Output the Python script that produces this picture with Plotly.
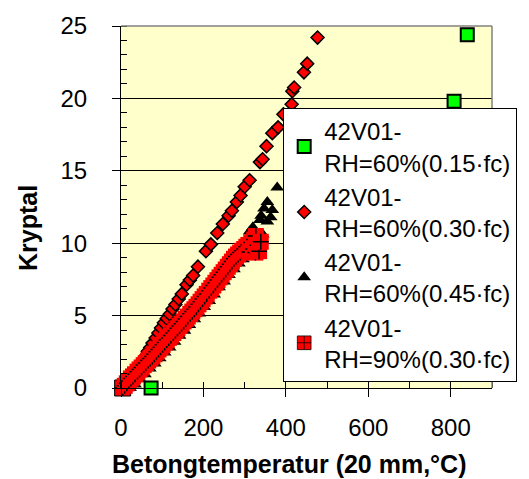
import plotly.graph_objects as go

# ---- data -------------------------------------------------------------
series_names = [
    "42V01-<br>RH=60%(0.15·fc)",
    "42V01-<br>RH=60%(0.30·fc)",
    "42V01-<br>RH=60%(0.45·fc)",
    "42V01-<br>RH=90%(0.30·fc)",
]

# RH=60 %, 0.15·fc
rh60_015_x = [73, 521, 808, 840]
rh60_015_y = [0.0, 1.36, 19.8, 24.4]

# RH=60 %, 0.30·fc
rh60_030_x = [10, 16, 22, 30, 37.5, 45, 53, 59, 65, 71, 76.5, 84, 90.6, 97, 104, 111,
              118, 125, 132, 140, 147.5, 159, 167, 175, 186.6, 206, 218, 233.5, 247,
              261, 269, 281, 290, 300, 312, 337, 343.5, 353, 367, 381, 394, 414,
              415.6, 420, 443.8, 451.7, 476.8]
rh60_030_y = [0.05, 0.3, 0.55, 0.9, 1.2, 1.5, 1.86, 2.2, 2.54, 2.8, 3.1, 3.45, 3.8,
              4.15, 4.5, 4.8, 5.09, 5.45, 5.77, 6.15, 6.5, 7.13, 7.45, 7.77, 8.38,
              9.45, 9.92, 10.7, 11.33, 11.9, 12.24, 12.85, 13.3, 13.9, 14.35, 15.6,
              15.8, 16.7, 17.6, 18.0, 18.9, 19.6, 20.5, 20.75, 21.8, 22.4, 24.2]

# RH=60 %, 0.45·fc
rh60_045_x = [22, 34, 46, 58, 70, 82, 94, 106, 118, 130, 142, 154, 166, 178, 190,
              202, 214, 226, 238, 250, 262, 274, 286, 296, 300, 305, 312, 320, 337,
              340, 344, 347, 355, 355, 363, 367, 379]
rh60_045_y = [0.0, 0.25, 0.6, 0.95, 1.35, 1.7, 2.05, 2.45, 2.8, 3.2, 3.6, 3.95, 4.35,
              4.75, 5.15, 5.6, 6.0, 6.45, 6.95, 7.35, 7.8, 8.2, 8.6, 8.9, 9.6,
              10.2, 10.8, 11.1, 11.6, 11.9, 10.6, 12.4, 12.85, 11.5, 11.8, 12.3, 13.85]

# RH=90 %, 0.30·fc
rh90_030_x = [4, 9, 14, 19, 24, 29, 34, 40, 45, 50, 55, 60, 66, 71, 76, 81, 86, 91,
              96, 101, 106, 111, 116, 121, 127, 132, 137, 142, 147, 152, 157, 162,
              168, 173, 178, 183, 188, 193, 198, 203, 208, 214, 219, 224, 229, 234,
              239, 244, 249, 254, 259, 264, 269, 274, 279, 284, 289, 294, 299, 304,
              309, 312, 316, 320, 323, 326, 327, 331, 335, 339]
rh90_030_y = [0.0, 0.15, 0.32, 0.48, 0.66, 0.8, 0.95, 1.13, 1.28, 1.42, 1.58, 1.72,
              1.9, 2.04, 2.18, 2.33, 2.5, 2.66, 2.81, 2.98, 3.14, 3.31, 3.46, 3.62,
              3.8, 3.96, 4.12, 4.29, 4.44, 4.6, 4.77, 4.93, 5.12, 5.28, 5.44, 5.6,
              5.78, 5.96, 6.14, 6.32, 6.5, 6.72, 6.9, 7.08, 7.27, 7.45, 7.64, 7.82,
              8.0, 8.18, 8.37, 8.55, 8.73, 8.92, 9.08, 9.22, 9.35, 9.48, 9.6, 9.75,
              9.88, 9.4, 10.05, 9.6, 10.25, 9.35, 10.5, 9.85, 9.45, 10.1]

x_ticks = [0, 200, 400, 600, 800]
y_ticks = [0, 5, 10, 15, 20, 25]

# ---- styling ----------------------------------------------------------
FONT = "Liberation Sans, Arial, sans-serif"
PLOT_BG = "#FFFFCC"
W, H = 529, 479
M_L, M_R, M_T, M_B = 121, 26, 21, 91

fig = go.Figure()

fig.add_trace(go.Scatter(
    x=rh60_015_x, y=rh60_015_y, mode="markers", name=series_names[0],
    marker=dict(symbol="square", size=13, color="#00FF00", opacity=1,
                line=dict(color="black", width=2)),
    cliponaxis=False,
))

fig.add_trace(go.Scatter(
    x=rh60_030_x, y=rh60_030_y, mode="markers", name=series_names[1],
    marker=dict(symbol="diamond", size=10, color="#FF0000", opacity=1,
                line=dict(color="black", width=1.5)),
    cliponaxis=False,
))

fig.add_trace(go.Scatter(
    x=rh60_045_x, y=rh60_045_y, mode="markers", name=series_names[2],
    marker=dict(symbol="triangle-up", size=12, color="black", opacity=1,
                line=dict(color="black", width=0)),
    cliponaxis=False,
))

# Each point drawn as a red square followed by a black plus, in sequence,
# so later squares cover the earlier crosses.
SQ = 16
px, py, psym, psize, plc, plw = [], [], [], [], [], []
for i, (xv, yv) in enumerate(zip(rh90_030_x, rh90_030_y)):
    px += [xv, xv]
    py += [yv, yv]
    psym += ["square-cross" if i == 0 else "square", "cross-thin"]
    psize += [SQ, SQ / 1.4]
    plc += ["black" if i == 0 else "#FF0000", "black"]
    plw += [1 if i == 0 else 0, 1.5]

fig.add_trace(go.Scatter(
    x=px, y=py, mode="markers", name=series_names[3],
    marker=dict(symbol=psym, size=psize, color="#FF0000", opacity=1,
                line=dict(color=plc, width=plw)),
    cliponaxis=False,
))

plot_w = W - M_L - M_R
plot_h = H - M_T - M_B

fig.update_layout(
    width=W, height=H,
    margin=dict(l=M_L, r=M_R, t=M_T, b=M_B, pad=0),
    paper_bgcolor="white",
    plot_bgcolor=PLOT_BG,
    font=dict(family=FONT, size=24, color="black"),
    showlegend=True,
    legend=dict(
        x=(288 - M_L) / plot_w, y=1 - (104 - M_T) / plot_h,
        xanchor="left", yanchor="top",
        bgcolor="white", bordercolor="black", borderwidth=1,
        font=dict(family=FONT, size=24, color="black"),
        tracegroupgap=0,
    ),
    xaxis=dict(
        range=[0, 900], tickvals=x_ticks, ticktext=[str(v) for v in x_ticks],
        showgrid=False, zeroline=False,
        showline=True, linecolor="black", linewidth=1,
        ticks="outside", ticklen=8, tickcolor="black", tickwidth=1,
        ticklabelstandoff=10,
        minor=dict(dtick=100, tick0=0, ticks="inside", ticklen=6,
                   tickcolor="black", tickwidth=1, showgrid=False),
        tickfont=dict(family=FONT, size=24),
    ),
    yaxis=dict(
        range=[0, 25], tickvals=y_ticks, ticktext=[str(v) for v in y_ticks],
        showgrid=True, gridcolor="black", gridwidth=1,
        zeroline=False,
        showline=True, linecolor="black", linewidth=1,
        ticks="outside", ticklen=8, tickcolor="black", tickwidth=1,
        ticklabelstandoff=20,
        minor=dict(dtick=1, tick0=0, ticks="inside", ticklen=6,
                   tickcolor="black", tickwidth=1, showgrid=False),
        tickfont=dict(family=FONT, size=24),
    ),
    shapes=[
        # grey frame on the top and right of the plotting area
        dict(type="line", xref="x domain", yref="y domain", x0=0, x1=1, y0=1, y1=1,
             line=dict(color="#808080", width=1.5), layer="above"),
        dict(type="line", xref="x domain", yref="y domain", x0=1, x1=1, y0=0, y1=1,
             line=dict(color="#808080", width=1.5), layer="above"),
    ],
    annotations=[
        dict(text="<b>Betongtemperatur (20 mm,°C)</b>", xref="paper", yref="paper",
             x=(295 - M_L) / plot_w, y=-(465 - (H - M_B)) / plot_h,
             xanchor="center", yanchor="middle", showarrow=False,
             font=dict(family=FONT, size=25, color="black")),
        dict(text="<b>Kryptal</b>", xref="paper", yref="paper",
             x=(25 - M_L) / plot_w, y=1 - (226 - M_T) / plot_h,
             xanchor="center", yanchor="middle", textangle=-90, showarrow=False,
             font=dict(family=FONT, size=25, color="black")),
    ],
)

fig.write_html("out.html")
